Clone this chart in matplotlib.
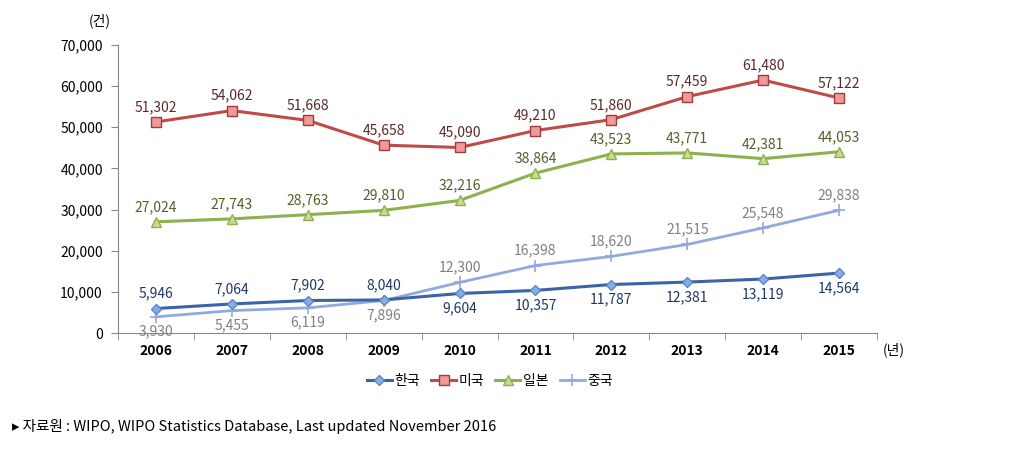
import numpy as np
import matplotlib.pyplot as plt

plt.rcParams['font.family'] = ['Noto Sans CJK KR', 'DejaVu Sans']

# ================= data =================
years = ['2006', '2007', '2008', '2009', '2010', '2011', '2012', '2013', '2014', '2015']
korea = [5946, 7064, 7902, 8040, 9604, 10357, 11787, 12381, 13119, 14564]
usa = [51302, 54062, 51668, 45658, 45090, 49210, 51860, 57459, 61480, 57122]
japan = [27024, 27743, 28763, 29810, 32216, 38864, 43523, 43771, 42381, 44053]
china = [3930, 5455, 6119, 7896, 12300, 16398, 18620, 21515, 25548, 29838]

# label above (+1) or below (-1)
korea_pos = [1, 1, 1, 1, -1, -1, -1, -1, -1, -1]
china_pos = [-1, -1, -1, -1, 1, 1, 1, 1, 1, 1]

x = np.arange(len(years))

fig = plt.figure(figsize=(10.14, 4.55), dpi=100)
ax = fig.add_axes([0.1164, 0.2681, 0.7485, 0.633])

ax.plot(x, korea, color='#3B64A8', lw=2.2, marker='D', ms=5.5,
        mfc='#86AEE6', mec='#5D85C8', label='한국', zorder=4)
ax.plot(x, usa, color='#BE4B48', lw=2.2, marker='s', ms=7,
        mfc='#EE9A96', mec='#A03C3A', label='미국', zorder=4)
ax.plot(x, japan, color='#8FB04E', lw=2.2, marker='^', ms=7,
        mfc='#C6DC8E', mec='#8FB04E', label='일본', zorder=4)
ax.plot(x, china, color='#93A9DD', lw=2.0, marker='+', ms=9, mew=1.2,
        label='중국', zorder=3)

fs = 10
off = 1900
for i in x:
    ax.text(i, usa[i] + off, f'{usa[i]:,}', ha='center', va='bottom', fontsize=fs, color='#5A2A2A')
    ax.text(i, japan[i] + off, f'{japan[i]:,}', ha='center', va='bottom', fontsize=fs, color='#4F6228')
    if korea_pos[i] > 0:
        ax.text(i, korea[i] + off, f'{korea[i]:,}', ha='center', va='bottom', fontsize=fs, color='#1F3864')
    else:
        ax.text(i, korea[i] - off, f'{korea[i]:,}', ha='center', va='top', fontsize=fs, color='#1F3864')
    if china_pos[i] > 0:
        ax.text(i, china[i] + off, f'{china[i]:,}', ha='center', va='bottom', fontsize=fs, color='#808080')
    else:
        ax.text(i, china[i] - off, f'{china[i]:,}', ha='center', va='top', fontsize=fs, color='#808080')

ax.set_xlim(-0.5, len(years) - 0.5)
ax.set_ylim(0, 70000)
ax.set_yticks(np.arange(0, 70001, 10000))
ax.set_yticklabels([f'{v:,}' for v in range(0, 70001, 10000)], fontsize=10)
ax.set_xticks(x)
ax.set_xticklabels(years, fontsize=10, fontweight='bold')
ax.set_xticks(np.arange(-0.5, len(years), 1), minor=True)
ax.tick_params(axis='x', which='major', length=0, pad=8)
ax.tick_params(axis='x', which='minor', length=5, color='#888888', direction='out')
ax.tick_params(axis='y', length=5, color='#888888', pad=6)

for s in ['top', 'right']:
    ax.spines[s].set_visible(False)
ax.spines['left'].set_color('#888888')
ax.spines['bottom'].set_color('#888888')

fig.text(0.098, 0.955, '(건)', fontsize=10, ha='center', va='center')
fig.text(0.881, 0.232, '(년)', fontsize=10, ha='center', va='center')

ax.legend(loc='upper center', bbox_to_anchor=(0.49, -0.10), ncol=4, frameon=False,
          fontsize=10, handlelength=1.8, columnspacing=0.8, handletextpad=0.2)

fig.text(0.012, 0.062, '▸ 자료원 : WIPO, WIPO Statistics Database, Last updated November 2016',
         fontsize=10.5, ha='left', va='center')

fig.savefig('out.png', dpi=100)
